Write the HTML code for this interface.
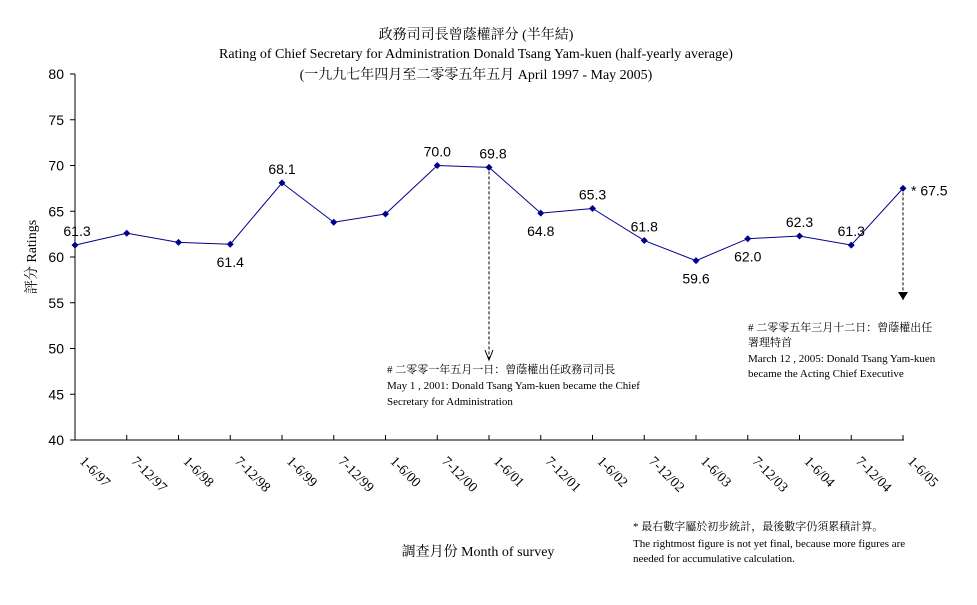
<!DOCTYPE html>
<html><head><meta charset="utf-8"><style>
body{margin:0;background:#fff;}
svg{font-family:"Liberation Serif","Noto Serif CJK SC","Noto Sans CJK TC",serif;}
</style></head><body>
<svg id="c" width="977" height="600" xmlns="http://www.w3.org/2000/svg">
<g font-size="14" text-anchor="middle" fill="#000">
<text x="476" y="39">政務司司長曾蔭權評分 (半年結)</text>
<text x="476" y="58">Rating of Chief Secretary for Administration Donald Tsang Yam-kuen  (half-yearly average)</text>
<text x="476" y="79">(一九九七年四月至二零零五年五月 April 1997 - May 2005)</text>
</g>
<text x="0" y="0" font-size="14" text-anchor="middle" transform="translate(36,257) rotate(-90)">評分 Ratings</text>
<text x="478" y="556" font-size="14" text-anchor="middle">調查月份 Month of survey</text>
<g id="axes"></g>
<g id="marks"></g>
<g font-size="11" fill="#000">
<text x="387" y="373"># 二零零一年五月一日：曾蔭權出任政務司司長</text>
<text x="387" y="389">May 1 , 2001: Donald  Tsang Yam-kuen became the Chief</text>
<text x="387" y="405">Secretary for Administration</text>
<text x="748" y="331"># 二零零五年三月十二日：曾蔭權出任</text>
<text x="748" y="346">署理特首</text>
<text x="748" y="362">March 12 , 2005: Donald  Tsang Yam-kuen</text>
<text x="748" y="377">became the Acting Chief Executive</text>
<text x="633" y="530">* 最右數字屬於初步統計，最後數字仍須累積計算。</text>
<text x="633" y="547">The rightmost figure is not yet final, because more figures are</text>
<text x="633" y="562">needed for accumulative calculation.</text>
</g>
<script>
const categories=["1-6/97","7-12/97","1-6/98","7-12/98","1-6/99","7-12/99","1-6/00","7-12/00","1-6/01","7-12/01","1-6/02","7-12/02","1-6/03","7-12/03","1-6/04","7-12/04","1-6/05"];
const values=[61.3,62.6,61.6,61.4,68.1,63.8,64.7,70.0,69.8,64.8,65.3,61.8,59.6,62.0,62.3,61.3,67.5];
const labels=["61.3",null,null,"61.4","68.1",null,null,"70.0","69.8","64.8","65.3","61.8","59.6","62.0","62.3","61.3","* 67.5"];
const labelPos=["above",null,null,"below","above",null,null,"above","above","below","above","above","below","below","above","above","right"];
const yTicks=[40,45,50,55,60,65,70,75,80];
const NS="http://www.w3.org/2000/svg";
const X0=75,X1=903,Y0=440,Y1=74;
function xs(i){return X0+(X1-X0)*i/(categories.length-1);}
function ys(v){return Y0-(v-40)/40*(Y0-Y1);}
function mk(t,a,p){const e=document.createElementNS(NS,t);for(const k in a)e.setAttribute(k,a[k]);p.appendChild(e);return e;}
const ax=document.getElementById('axes'),mg=document.getElementById('marks');
let l=mk('line',{x1:X0,y1:Y1,x2:X0,y2:Y0,stroke:'#000'},ax);


l=mk('line',{x1:X0,y1:Y0,x2:X1+1,y2:Y0,stroke:'#000'},ax);


yTicks.forEach(v=>{
 mk('line',{x1:X0-5,y1:ys(v),x2:X0,y2:ys(v),stroke:'#000'},ax);
 const t=mk('text',{x:X0-11,y:ys(v)+5,'font-size':14,'text-anchor':'end','font-family':'Liberation Sans, sans-serif'},ax);
 t.textContent=v;
 
 
});
categories.forEach((c,i)=>{
 const x=xs(i);
 if(i>0) mk('line',{x1:x,y1:Y0-5,x2:x,y2:Y0,stroke:'#000'},ax);
 const t=mk('text',{x:0,y:0,'font-size':14,transform:`translate(${x+4},${Y0+22}) rotate(45)`},ax);
 t.textContent=c;
 
 
});
const pts=values.map((v,i)=>xs(i)+','+ys(v)).join(' ');
const pl=mk('polyline',{points:pts,fill:'none',stroke:'#00008b','stroke-width':1},mg);


values.forEach((v,i)=>{
 const x=xs(i),y=ys(v);
 const p=mk('polygon',{points:`${x},${y-3.5} ${x+3.5},${y} ${x},${y+3.5} ${x-3.5},${y}`,fill:'#00008b'},mg);
 
 
 if(labels[i]){
  let tx=x,ty=y-9,anc='middle';
  if(i===8)tx=x+4;
  if(i===0)tx=x+2;
  if(labelPos[i]==='below')ty=y+23;
  if(labelPos[i]==='right'){tx=x+8;ty=y+7;anc='start';}
  const t=mk('text',{x:tx,y:ty,'font-size':14,'text-anchor':anc,'font-family':'Liberation Sans, sans-serif'},mg);
  t.textContent=labels[i];
  
  
 }
});
[[8,360],[16,300]].forEach(([i,yEnd])=>{
 const x=xs(i);
 const a=mk('line',{x1:x,y1:ys(values[i])+4,x2:x,y2:yEnd,stroke:'#000','stroke-dasharray':'3,2'},mg);
 
 
 if(i===16) mk('polygon',{points:`${x-5},${yEnd-8} ${x+5},${yEnd-8} ${x},${yEnd}`,fill:'#000'},mg);
 else mk('polyline',{points:`${x-4},${yEnd-10} ${x},${yEnd} ${x+4},${yEnd-10}`,fill:'none',stroke:'#000'},mg);
});
</script>
</svg>
</body></html>
